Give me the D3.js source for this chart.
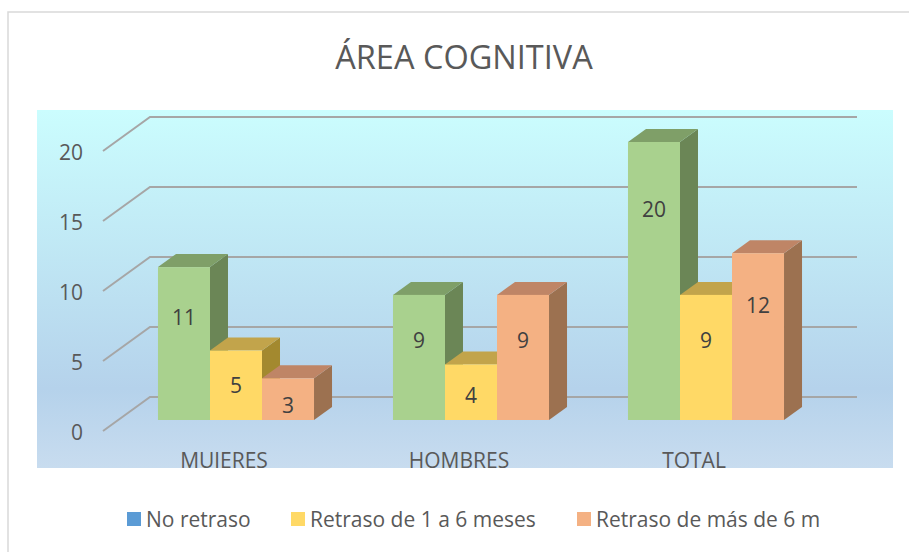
<!DOCTYPE html>
<html>
<head>
<meta charset="utf-8">
<script src="https://cdn.jsdelivr.net/npm/d3@7"></script>
<style>
  body { margin: 0; background: #fff; }
  svg { display: block; font-family: "Open Sans", sans-serif; }
</style>
</head>
<body>
<div id="vis"></div>
<script>
const categories = ["MUJERES", "HOMBRES", "TOTAL"];
const series = ["No retraso", "Retraso de 1 a 6 meses", "Retraso de más de 6 m"];
const noRetraso = [11, 9, 20];
const retraso1a6 = [5, 4, 9];
const retrasoMas6 = [3, 9, 12];
const yTicks = [0, 5, 10, 15, 20];

const values = [noRetraso, retraso1a6, retrasoMas6];
const width = 909;
const height = 552;

// front, top, side colours per series (bars use green for the first one, legend keeps blue)
const barColors = [
  {front: "#a9d18e", top: "#7f9f68", side: "#6b8656"},
  {front: "#ffd966", top: "#c2a44b", side: "#a3892f"},
  {front: "#f4b183", top: "#bf8566", side: "#9c7150"}
];
const legendColors = ["#5b9bd5", "#ffd966", "#f4b183"];
const textColor = "#595959";

const depth = {dx: 18, dy: -13};     // bar depth
const wall = {dx: 47, dy: -34};      // floor depth, front edge to back wall
const plot = {x: 37, y: 110, w: 856, h: 358};

const svg = d3.select("#vis")
        .append("svg")
        .attr("width", width)
        .attr("height", height);

const defs = svg.append("defs");

// background gradient of the plot area
const grad = defs.append("linearGradient")
        .attr("id", "bg")
        .attr("x1", 0).attr("y1", 0).attr("x2", 0).attr("y2", 1);
grad.append("stop").attr("offset", "0%").attr("stop-color", "#cbfdfe");
grad.append("stop").attr("offset", "78%").attr("stop-color", "#b5d2eb");
grad.append("stop").attr("offset", "100%").attr("stop-color", "#c8dcef");

defs.append("clipPath")
        .attr("id", "plotClip")
        .append("rect")
        .attr("x", plot.x).attr("y", plot.y)
        .attr("width", plot.w).attr("height", plot.h);

// outer chart border (cut off at right and bottom)
svg.append("rect")
        .attr("x", 8)
        .attr("y", 12)
        .attr("width", 920)
        .attr("height", 560)
        .attr("fill", "#fff")
        .attr("stroke", "#d9d9d9")
        .attr("stroke-width", 1.5);

svg.append("rect")
        .attr("x", plot.x)
        .attr("y", plot.y)
        .attr("width", plot.w)
        .attr("height", plot.h)
        .attr("fill", "url(#bg)");

svg.append("text")
        .attr("x", 464)
        .attr("y", 56)
        .attr("text-anchor", "middle")
        .attr("dominant-baseline", "central")
        .attr("font-size", 32.5)
        .attr("fill", textColor)
        .text("ÁREA COGNITIVA");

// scales
const x = d3.scaleBand()
        .domain(categories)
        .range([118.5, 823.5])
        .paddingInner(0.336)
        .paddingOuter(0.168);

const xs = d3.scaleBand()
        .domain(d3.range(series.length))
        .range([0, x.bandwidth()]);

const y = d3.scaleLinear()
        .domain([0, 20])
        .range([420, 142]);

// back wall scale
const yBack = d3.scaleLinear()
        .domain([0, 20])
        .range([397, 117]);

const wallLeft = 150;
const wallRight = 857;

// gridlines: on wall + diagonal on the side
const grid = svg.append("g").attr("stroke", "#a6a6a6").attr("stroke-width", 2).attr("fill", "none");
yTicks.forEach(t => {
  grid.append("path")
          .attr("d", "M " + (wallLeft - wall.dx) + " " + (yBack(t) - wall.dy) +
                  " L " + wallLeft + " " + yBack(t) + " L " + wallRight + " " + yBack(t));
});

// y axis labels
svg.append("g")
        .selectAll("text")
        .data(yTicks)
        .join("text")
        .attr("x", 83)
        .attr("y", d => yBack(d) - wall.dy + 1)
        .attr("text-anchor", "end")
        .attr("dominant-baseline", "central")
        .attr("font-size", 21)
        .attr("fill", textColor)
        .text(d => d);

// bars
const bars = svg.append("g");
categories.forEach((cat, ci) => {
  values.forEach((vals, si) => {
    const v = vals[ci];
    const x0 = x(cat) + xs(si);
    const x1 = x0 + xs.bandwidth();
    const top = y(v);
    const base = y(0);
    const c = barColors[si];
    const g = bars.append("g");
    // side
    g.append("path")
            .attr("d", "M " + x1 + " " + top + " L " + (x1 + depth.dx) + " " + (top + depth.dy) +
                    " L " + (x1 + depth.dx) + " " + (base + depth.dy) + " L " + x1 + " " + base + " Z")
            .attr("fill", c.side);
    // top
    g.append("path")
            .attr("d", "M " + x0 + " " + top + " L " + (x0 + depth.dx) + " " + (top + depth.dy) +
                    " L " + (x1 + depth.dx) + " " + (top + depth.dy) + " L " + x1 + " " + top + " Z")
            .attr("fill", c.top);
    // front
    g.append("rect")
            .attr("x", x0)
            .attr("y", top)
            .attr("width", x1 - x0)
            .attr("height", base - top)
            .attr("fill", c.front);
  });
});

// data labels
const labels = svg.append("g");
categories.forEach((cat, ci) => {
  values.forEach((vals, si) => {
    const v = vals[ci];
    labels.append("text")
            .attr("x", x(cat) + xs(si) + xs.bandwidth() / 2)
            .attr("y", y(v) + 2 + 14.5 * Math.sqrt(v))
            .attr("text-anchor", "middle")
            .attr("dominant-baseline", "central")
            .attr("font-size", 21)
            .attr("fill", "#404040")
            .text(v);
  });
});

// category labels (cut by the bottom of the plot area, as in the original)
svg.append("g")
        .attr("clip-path", "url(#plotClip)")
        .selectAll("text")
        .data(categories)
        .join("text")
        .attr("x", d => x(d) + x.bandwidth() / 2 - 12)
        .attr("y", 467.5)
        .attr("text-anchor", "middle")
        .attr("font-size", 21)
        .attr("fill", textColor)
        .text(d => d);

// legend
const legendX = [127, 291, 577];
const legend = svg.append("g");
series.forEach((s, i) => {
  legend.append("rect")
          .attr("x", legendX[i])
          .attr("y", 512)
          .attr("width", 14)
          .attr("height", 14)
          .attr("fill", legendColors[i]);
  legend.append("text")
          .attr("x", legendX[i] + 19)
          .attr("y", 519)
          .attr("dominant-baseline", "central")
          .attr("font-size", 21)
          .attr("fill", textColor)
          .text(s);
});
</script>
</body>
</html>
